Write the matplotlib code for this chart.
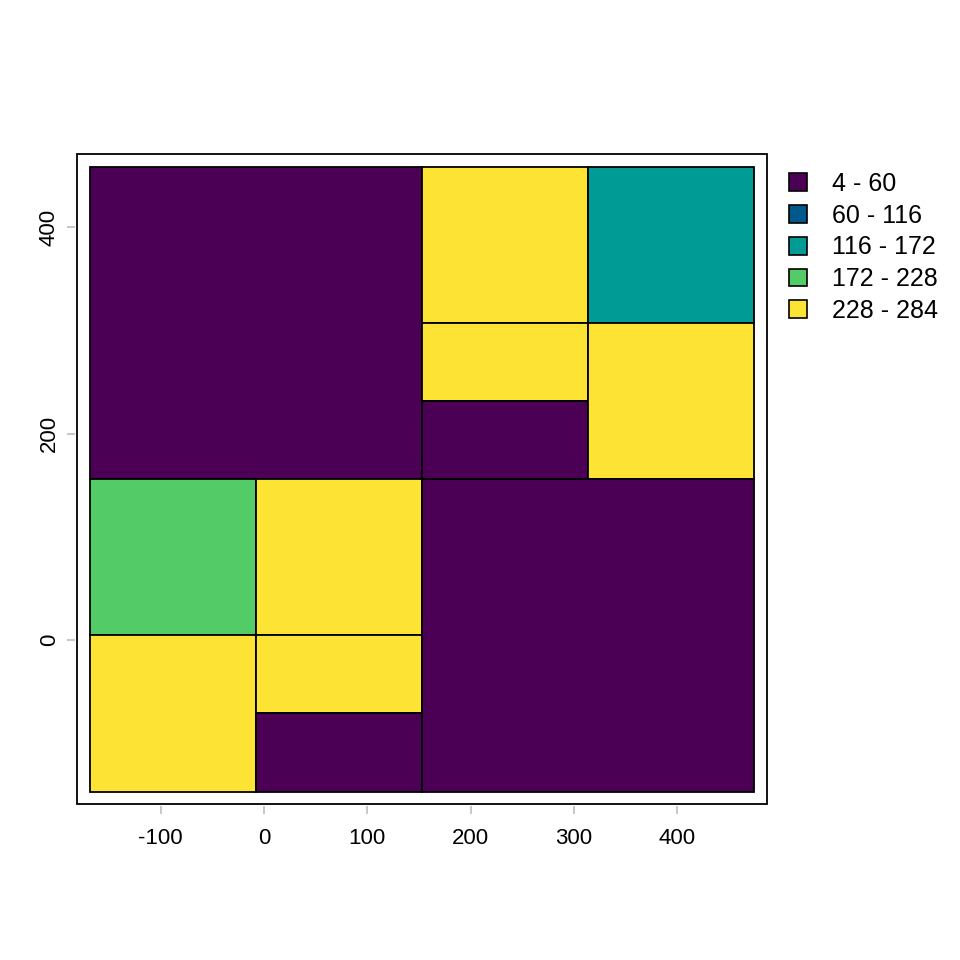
import numpy as np
import matplotlib
matplotlib.use('Agg')
import matplotlib.pyplot as plt
from matplotlib.patches import Rectangle, Patch

plt.rcParams['font.family'] = ['Liberation Sans', 'DejaVu Sans']
plt.rcParams['axes.unicode_minus'] = False

# cell edges (quadtree-like grid)
x_edges = [-168, -7.5, 153, 313.5, 474]
y_edges = [-147, -71.25, 4.5, 156, 231.75, 307.5, 459]

# cells: (xmin, xmax, ymin, ymax) as edge indices, value
cell_x0 = [0, 2, 3, 2, 2, 3, 0, 1, 0, 1, 1, 2]
cell_x1 = [2, 3, 4, 3, 3, 4, 1, 2, 1, 2, 2, 4]
cell_y0 = [3, 5, 5, 4, 3, 3, 2, 2, 0, 1, 0, 0]
cell_y1 = [6, 6, 6, 5, 4, 5, 3, 3, 2, 2, 1, 3]
values = [10, 270, 150, 260, 30, 250, 200, 280, 240, 265, 20, 5]

breaks = [4, 60, 116, 172, 228, 284]
colors = ["#4B0055", "#00588B", "#009B95", "#53CC67", "#FDE333"]
labels = [f"{breaks[i]} - {breaks[i+1]}" for i in range(len(colors))]

x_ticks = [-100, 0, 100, 200, 300, 400]
y_ticks = [0, 200, 400]

fig = plt.figure(figsize=(9.6, 9.6), dpi=100)
ax = fig.add_axes([77/960, 1 - 804/960, 690/960, 650/960])

for i in range(len(values)):
    k = np.digitize(values[i], breaks[1:-1], right=True)
    x0 = x_edges[cell_x0[i]]; x1 = x_edges[cell_x1[i]]
    y0 = y_edges[cell_y0[i]]; y1 = y_edges[cell_y1[i]]
    ax.add_patch(Rectangle((x0, y0), x1 - x0, y1 - y0, facecolor=colors[k],
                           edgecolor='black', linewidth=1.3))

xr = x_edges[-1] - x_edges[0]
yr = y_edges[-1] - y_edges[0]
ax.set_xlim(x_edges[0] - 0.02*xr, x_edges[-1] + 0.02*xr)
ax.set_ylim(y_edges[0] - 0.02*yr, y_edges[-1] + 0.02*yr)

# box
ax.add_patch(Rectangle((0, 0), 1, 1, transform=ax.transAxes, fill=False,
                       edgecolor='black', linewidth=1.3, clip_on=False))
for s in ['top', 'right']:
    ax.spines[s].set_visible(False)
for s in ['bottom', 'left']:
    ax.spines[s].set_color('none')
    ax.spines[s].set_position(('outward', 1.5))

ax.set_xticks(x_ticks)
ax.set_xticklabels([str(v) for v in x_ticks])
ax.set_yticks(y_ticks)
ax.set_yticklabels([str(v) for v in y_ticks], rotation=90, va='center')
ax.tick_params(direction='out', length=6, width=1.2, color='#BEBEBE',
               labelsize=16, labelcolor='black', pad=9.5)
ax.tick_params(axis='y', pad=5)

handles = [Patch(facecolor=c, edgecolor='black', linewidth=1.2) for c in colors]
fig.legend(handles, labels, loc='upper left',
           bbox_to_anchor=(789/960, 1 - 172/960), frameon=False,
           fontsize=18, handlelength=0.72, handleheight=0.72,
           handletextpad=1.0, labelspacing=0.31, borderpad=0,
           borderaxespad=0)

fig.savefig('out.png', dpi=100)
